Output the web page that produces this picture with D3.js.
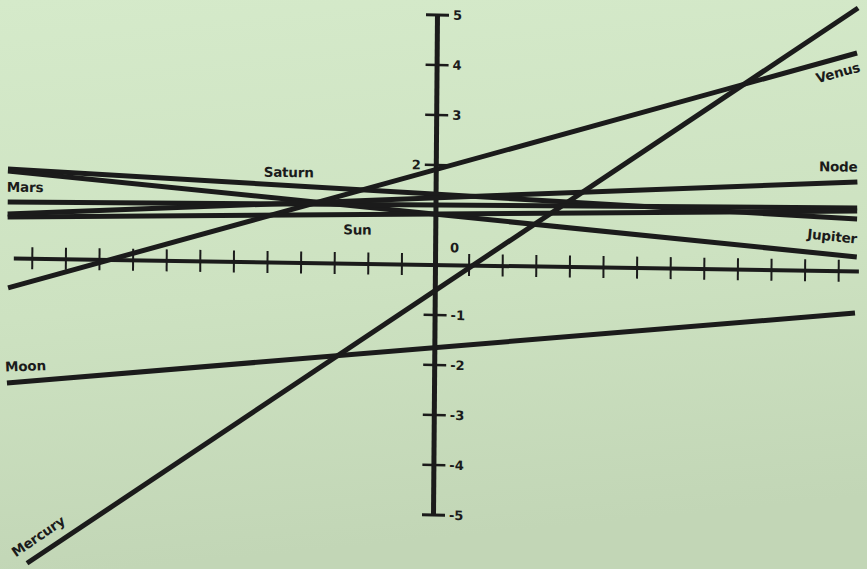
<!DOCTYPE html>
<html><head><meta charset="utf-8">
<script src="https://cdn.jsdelivr.net/npm/d3@7"></script>
<style>
html,body{margin:0;padding:0;background:#cfe2c3;}
svg{display:block;}
</style></head>
<body>
<svg id="chart" width="867" height="569"></svg>
<script>
// ---- data ----
const planets = ["Venus", "Mercury", "Moon", "Saturn", "Jupiter", "Mars", "Sun", "Node"];
const startX  = [-12.70, -12.07, -12.71, -12.73, -12.73, -12.73, -12.73, -12.73];
const startY  = [-0.60,  -6.10,  -2.50,   1.78,   1.74,   1.12,   0.82,   0.88];
const endX    = [12.51,  12.53,  12.51,  12.55,  12.55,  12.55,  12.55,  12.55];
const endY    = [4.36,    5.26,  -0.84,   1.04,   0.28,   1.26,   1.20,   1.78];
const xTicks  = [-12,-11,-10,-9,-8,-7,-6,-5,-4,-3,-2,-1,1,2,3,4,5,6,7,8,9,10,11,12];
const yTicks  = [5, 4, 3, 2, -1, -2, -3, -4, -5];
const xExtent = [-12.55, 12.6];
const yExtent = [-5, 5];

// ---- layout ----
const W = 867, H = 569;
const ox = 435, oy = 264.5, ux = 33.6, uy = 50;
const svg = d3.select("#chart");
const defs = svg.append("defs");
const grad = defs.append("linearGradient").attr("id","bg").attr("x1",0).attr("y1",0).attr("x2",0.15).attr("y2",1);
grad.append("stop").attr("offset","0%").attr("stop-color","#d5eaca");
grad.append("stop").attr("offset","55%").attr("stop-color","#cde2c1");
grad.append("stop").attr("offset","100%").attr("stop-color","#c2d6b6");
svg.append("rect").attr("width",W).attr("height",H).attr("fill","url(#bg)");

const x = d3.scaleLinear().domain(xExtent).range(xExtent.map(v => v*ux));
const y = d3.scaleLinear().domain(yExtent).range(yExtent.map(v => -v*uy));

// scanned page is slightly skewed
const g = svg.append("g").attr("transform", `translate(${ox},${oy}) matrix(1,0.0154,-0.008,1,0,0)`);
const ink = "#1b1b1b";
const font = "'DejaVu Sans', sans-serif";

// horizontal axis
const xAxis = d3.axisBottom(x).tickValues(xTicks).tickSize(11).tickSizeOuter(0).tickFormat("");
const gx = g.append("g").attr("transform", `translate(0,${y(0)})`).call(xAxis);
gx.select(".domain").attr("stroke", ink).attr("stroke-width", 4);
gx.selectAll(".tick line").attr("stroke", ink).attr("stroke-width", 2).attr("y1", -11).attr("y2", 11);

// vertical axis
const yAxis = d3.axisRight(y).tickValues(yTicks).tickSize(12).tickSizeOuter(0)
  .tickFormat(d => d < 0 ? "-" + Math.abs(d) : String(d));
const gy = g.append("g").attr("transform", `translate(${x(0)},0)`).call(yAxis);
gy.select(".domain").attr("stroke", ink).attr("stroke-width", 5);
gy.selectAll(".tick line").attr("stroke", ink).attr("stroke-width", 2.5).attr("x1", -11).attr("x2", 12);
gy.selectAll(".tick text").attr("fill", ink).attr("font-family", font).attr("font-size", 13)
  .attr("font-weight", "bold").attr("x", 16).attr("dy", "0.35em");
gy.selectAll(".tick").filter(d => d === 2).select("text").attr("x", -15).attr("text-anchor", "end");
gy.selectAll(".tick").filter(d => d === 5 || d === -5).select("line").attr("stroke-width", 3);
// zero label
g.append("text").attr("x", x(0) + 15).attr("y", y(0) - 17).attr("dy", "0.35em")
  .attr("fill", ink).attr("font-family", font).attr("font-size", 13).attr("font-weight", "bold").text("0");

// planet lines
const rows = planets.map((p, i) => ({name: p, pts: [[startX[i], startY[i]], [endX[i], endY[i]]]}));
const lineGen = d3.line().x(d => x(d[0])).y(d => y(d[1]));
g.append("g").selectAll("path").data(rows).join("path")
  .attr("d", d => lineGen(d.pts)).attr("fill", "none")
  .attr("stroke", ink).attr("stroke-width", 5).attr("stroke-linecap", "butt");

// labels (anchored to their lines)
const labelLayout = {
  Venus:   {at: "end",   dx: -19, dy: 20,  anchor: "middle", rot: -16},
  Node:    {at: "end",   dx: 0,   dy: -15, anchor: "end",    rot: 0},
  Jupiter: {at: "end",   dx: 0,   dy: -18, anchor: "end",    rot: 5},
  Saturn:  {at: -5.12,   dx: 0,   dy: -12, anchor: "start",  rot: 0},
  Mars:    {at: "start", dx: -1,  dy: -15, anchor: "start",  rot: 0},
  Sun:     {at: -2.74,   dx: 0,   dy: 15,  anchor: "start",  rot: 0},
  Moon:    {at: "start", dx: -2,  dy: -16, anchor: "start",  rot: -3},
  Mercury: {at: "start", dx: 11,  dy: -27, anchor: "middle", rot: -35}
};
rows.forEach(r => {
  const L = labelLayout[r.name];
  const [a, b] = r.pts;
  let px, py;
  if (L.at === "end") { px = x(b[0]); py = y(b[1]); }
  else if (L.at === "start") { px = x(a[0]); py = y(a[1]); }
  else { const t = (L.at - a[0]) / (b[0] - a[0]); px = x(L.at); py = y(a[1] + t*(b[1]-a[1])); }
  px += L.dx; py += L.dy;
  g.append("text").attr("transform", `translate(${px},${py}) rotate(${L.rot})`)
    .attr("text-anchor", L.anchor).attr("dy", "0.35em")
    .attr("fill", ink).attr("font-family", font).attr("font-size", 13.5).attr("font-weight", "bold")
    .attr("letter-spacing", "-0.2px").text(r.name);
});
</script>
</body></html>
